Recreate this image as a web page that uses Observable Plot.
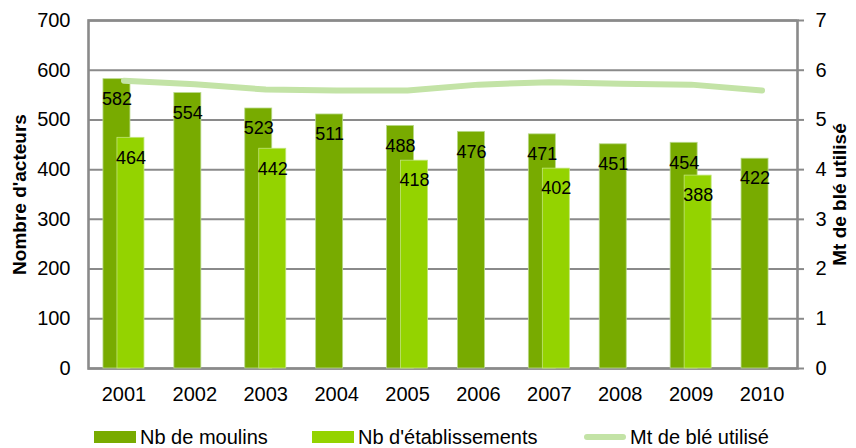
<!DOCTYPE html>
<html>
<head>
<meta charset="utf-8">
<script src="https://cdn.jsdelivr.net/npm/d3@7"></script>
<script src="https://cdn.jsdelivr.net/npm/@observablehq/plot@0.6"></script>
<style>
  html, body { margin: 0; padding: 0; background: #fff; }
  body { width: 856px; height: 448px; overflow: hidden; font-family: "Liberation Sans", Arial, sans-serif; }
  #legend { position: relative; height: 30px; font-size: 20px; color: #000; }
  .item { position: absolute; top: 0; height: 30px; display: flex; align-items: center; }
  .sw { width: 42px; height: 12px; margin-right: 4px; }
  .ln { width: 42px; height: 6px; border-radius: 3px; margin-right: 4px; }
</style>
</head>
<body>
<div id="chart"></div>
<div id="legend"></div>
<script>
const years = ["2001","2002","2003","2004","2005","2006","2007","2008","2009","2010"];
const moulins = [582, 554, 523, 511, 488, 476, 471, 451, 454, 422];
const etabYears = ["2001","2003","2005","2007","2009"];
const etablissements = [464, 442, 418, 402, 388];
const ble = [5.79, 5.72, 5.61, 5.59, 5.59, 5.71, 5.76, 5.73, 5.71, 5.59];
const leftTicks = [0, 100, 200, 300, 400, 500, 600, 700];
const rightTicks = [0, 1, 2, 3, 4, 5, 6, 7];
const seriesNames = ["Nb de moulins", "Nb d'établissements", "Mt de blé utilisé"];
const leftTitle = "Nombre d'acteurs";
const rightTitle = "Mt de blé utilisé";

const cDark = "#78ab00", cLight = "#94d300", cLine = "#c3e3a6", cGrid = "#8a8a8a";

const dataM = years.map((year, i) => ({year, value: moulins[i]}));
const dataE = etabYears.map((year, i) => ({year, value: etablissements[i]}));
const dataB = years.map((year, i) => ({year, value: ble[i] * 100}));

const chart = Plot.plot({
  width: 856,
  height: 418,
  marginLeft: 88,
  marginRight: 59,
  marginTop: 20,
  marginBottom: 50,
  style: {fontFamily: "Liberation Sans, Arial, sans-serif", fontSize: "20px", color: "#000", background: "#fff", overflow: "visible"},
  x: {domain: years, padding: 0, round: false, axis: null},
  y: {domain: [0, 700], axis: null},
  marks: [
    Plot.gridY(leftTicks, {stroke: cGrid, strokeOpacity: 1, strokeWidth: 2}),
    Plot.frame({stroke: cGrid, strokeWidth: 2.6}),
    Plot.axisX(years, {tickSize: 0, tickPadding: 18, label: null, fontSize: 20}),
    Plot.axisY(leftTicks, {anchor: "left", tickSize: 0, tickPadding: 18, label: null, fontSize: 20}),
    Plot.axisY(rightTicks.map(t => t * 100), {anchor: "right", tickSize: 6, tickPadding: 12, stroke: cGrid, strokeWidth: 2, tickFormat: d => d / 100, label: null, fontSize: 20}),
    Plot.barY(dataM, {x: "year", y: "value", fill: cDark, stroke: "#b8d98a", strokeWidth: 0.8, insetLeft: 14.95, insetRight: 28.95}),
    Plot.barY(dataE, {x: "year", y: "value", fill: cLight, stroke: "#c2e57a", strokeWidth: 0.8, insetLeft: 28.95, insetRight: 14.95}),
    Plot.line(dataB, {x: "year", y: "value", stroke: cLine, strokeWidth: 6, strokeLinecap: "round", strokeLinejoin: "round"}),
    Plot.text(dataM, {x: "year", y: "value", text: d => String(d.value), dx: -7, dy: 20, fontSize: 18, fill: "#000"}),
    Plot.text(dataE, {x: "year", y: "value", text: d => String(d.value), dx: 7, dy: 20, fontSize: 18, fill: "#000"}),
    Plot.text([leftTitle], {frameAnchor: "left", textAnchor: "middle", dx: -69, rotate: -90, fontWeight: "bold", fontSize: 19, fill: "#000"}),
    Plot.text([rightTitle], {frameAnchor: "right", textAnchor: "middle", dx: 42, rotate: -90, fontWeight: "bold", fontSize: 19, fill: "#000"})
  ]
});
document.getElementById("chart").appendChild(chart);

const legend = document.getElementById("legend");
const legendDefs = [
  {name: seriesNames[0], cls: "sw", color: cDark, left: 94},
  {name: seriesNames[1], cls: "sw", color: cLight, left: 312},
  {name: seriesNames[2], cls: "ln", color: cLine, left: 584}
];
for (const d of legendDefs) {
  const item = document.createElement("div");
  item.className = "item";
  item.style.left = d.left + "px";
  item.style.top = "4px";
  const sw = document.createElement("span");
  sw.className = d.cls;
  sw.style.background = d.color;
  const t = document.createElement("span");
  t.textContent = d.name;
  item.appendChild(sw);
  item.appendChild(t);
  legend.appendChild(item);
}
</script>
</body>
</html>
